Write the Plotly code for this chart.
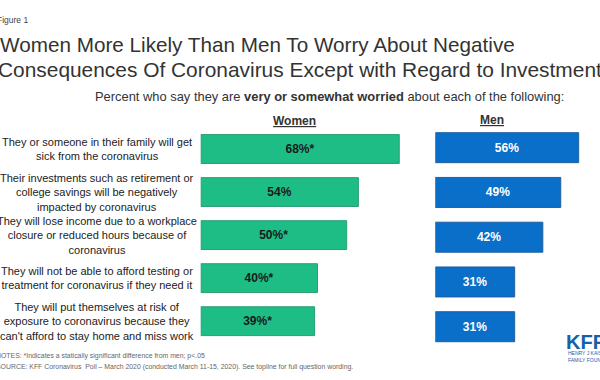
import plotly.graph_objects as go

categories = [
    "They or someone in their family will get<br>sick from the coronavirus",
    "Their investments such as retirement or<br>college savings will be negatively<br>impacted by coronavirus",
    "They will lose income due to a workplace<br>closure or reduced hours because of<br>coronavirus",
    "They will not be able to afford testing or<br>treatment for coronavirus if they need it",
    "They will put themselves at risk of<br>exposure to coronavirus because they<br>can't afford to stay home and miss work",
]
women = [68, 54, 50, 40, 39]
women_sig = ["*", "", "*", "*", "*"]
men = [56, 49, 42, 31, 31]

W, H = 600, 380
FONT = "Liberation Sans, Arial"
def px(x): return x / W
def py(y): return 1 - y / H

keys = list(range(len(categories)))
fig = go.Figure()
fig.add_trace(go.Bar(
    x=women, y=keys, orientation="h", width=0.67,
    marker=dict(color="#1DBD85", line=dict(color="#2E9E73", width=1)),
    text=[f"<b>{v}%{s}</b>" for v, s in zip(women, women_sig)], textposition="inside",
    insidetextanchor="middle",
    textfont=dict(family=FONT, size=12, color="#1a1a1a"),
    xaxis="x", yaxis="y", hoverinfo="skip", cliponaxis=False,
))
fig.add_trace(go.Bar(
    x=men, y=keys, orientation="h", width=0.67,
    marker=dict(color="#0A6FC8", line=dict(color="#1F5E9E", width=1)),
    text=[f"<b>{v}%</b>" for v in men], textposition="inside",
    insidetextanchor="middle",
    textfont=dict(family=FONT, size=12, color="white"),
    xaxis="x2", yaxis="y2", hoverinfo="skip", cliponaxis=False,
))

ax_common = dict(showgrid=False, zeroline=False, showticklabels=False, showline=False, fixedrange=True)
fig.update_layout(
    width=W, height=H, margin=dict(l=0, r=0, t=0, b=0),
    paper_bgcolor="white", plot_bgcolor="white", showlegend=False,
    uniformtext=dict(mode="show", minsize=8),
    xaxis=dict(domain=[px(200.7), px(200.7 + 2.92 * 70)], range=[0, 70], **ax_common),
    yaxis=dict(domain=[py(342.7), py(127.5)], range=[4.5, -0.5], **ax_common),
    xaxis2=dict(domain=[px(435.3), px(435.3 + 2.56 * 60)], range=[0, 60], **ax_common),
    yaxis2=dict(domain=[py(349.1), py(125.3)], range=[4.5, -0.5], anchor="x2", **ax_common),
)

ann = []
base = dict(xref="paper", yref="paper", showarrow=False)
ann.append(dict(base, x=px(-5), y=py(20), xanchor="left", yanchor="middle", text="Figure 1",
                font=dict(family=FONT, size=8.5, color="#444")))
ann.append(dict(base, x=px(-2), y=py(44), xanchor="left", yanchor="middle",
                text="Women More Likely Than Men To Worry About Negative",
                font=dict(family=FONT, size=20.7, color="#333")))
ann.append(dict(base, x=px(-4), y=py(69), xanchor="left", yanchor="middle",
                text="Consequences Of Coronavirus Except with Regard to Investments",
                font=dict(family=FONT, size=20.9, color="#333")))
ann.append(dict(base, x=px(329), y=py(96), xanchor="center", yanchor="middle",
                text="Percent who say they are <b>very or somewhat worried</b> about each of the following:",
                font=dict(family=FONT, size=12.9, color="#333")))
ann.append(dict(base, x=px(294), y=py(121), xanchor="center", yanchor="middle",
                text="<b><u>Women</u></b>", font=dict(family=FONT, size=12, color="#333")))
ann.append(dict(base, x=px(492), y=py(120), xanchor="center", yanchor="middle",
                text="<b><u>Men</u></b>", font=dict(family=FONT, size=12, color="#333")))
for i, c in enumerate(categories):
    ann.append(dict(xref="paper", yref="y", x=px(97), y=i, xanchor="center", yanchor="middle",
                    showarrow=False, align="center", text=c,
                    font=dict(family=FONT, size=11, color="#222")))
ann.append(dict(base, x=px(-6), y=py(356), xanchor="left", yanchor="middle",
                text="NOTES: *Indicates a statically significant difference from men; p<.05",
                font=dict(family=FONT, size=6.9, color="#666")))
ann.append(dict(base, x=px(-6), y=py(367), xanchor="left", yanchor="middle",
                text="SOURCE: KFF Coronavirus  Poll \u2013 March 2020 (conducted March 11-15, 2020). See topline for full question wording.",
                font=dict(family=FONT, size=6.9, color="#666")))
ann.append(dict(base, x=px(564), y=py(342), xanchor="left", yanchor="middle",
                text="<b>KFF</b>", font=dict(family=FONT, size=20, color="#1560A8")))
ann.append(dict(base, x=px(566), y=py(356), xanchor="left", yanchor="middle",
                text="HENRY J KAISER<br>FAMILY FOUNDATION", align="left",
                font=dict(family=FONT, size=5, color="#1560A8")))
fig.update_layout(annotations=ann)

fig.write_html("out.html", config={"displayModeBar": False},
               post_script="document.body.style.margin='0';document.body.style.padding='0';")
